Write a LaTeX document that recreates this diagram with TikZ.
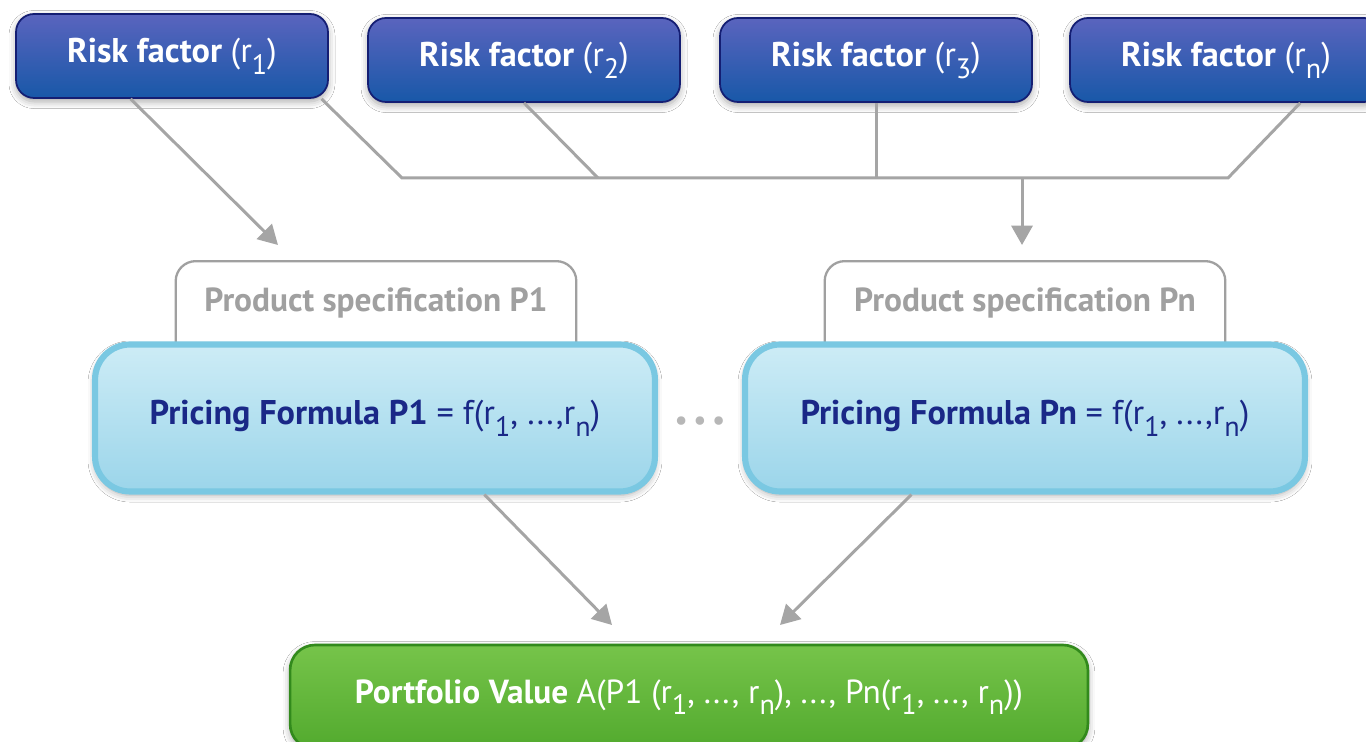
\documentclass[tikz,border=0pt]{standalone}
\usepackage{fontspec}
\setmainfont{PT Sans}
\usetikzlibrary{arrows.meta,shadows.blur}

\definecolor{riskTop}{RGB}{90,100,190}
\definecolor{riskMid}{RGB}{25,36,138}
\definecolor{riskBot}{RGB}{24,88,168}
\definecolor{riskEdge}{RGB}{20,30,115}
\definecolor{priceTop}{RGB}{205,236,246}
\definecolor{priceBot}{RGB}{155,213,234}
\definecolor{priceEdge}{RGB}{122,200,226}
\definecolor{navyText}{RGB}{26,40,135}
\definecolor{valueTop}{RGB}{118,196,74}
\definecolor{valueMid}{RGB}{58,155,34}
\definecolor{valueBot}{RGB}{82,170,46}
\definecolor{valueEdge}{RGB}{50,138,28}
\definecolor{linkGray}{RGB}{165,165,165}
\definecolor{specGray}{RGB}{160,160,160}

\newcommand{\lsub}[1]{\raisebox{-0.7ex}{\fontsize{16}{16}\selectfont #1}}

\begin{document}
\begin{tikzpicture}[x=0.02cm, y=-0.02cm,
    soft/.style={blur shadow={shadow xshift=0pt, shadow yshift=-2pt,
        shadow blur radius=4pt, shadow opacity=35}},
    riskbox/.style={soft, rounded corners=0.36cm, minimum width=6.24cm,
        minimum height=1.68cm, draw=riskEdge, line width=1pt,
        top color=riskTop, middle color=riskMid, bottom color=riskBot,
        text=white, font=\fontsize{19.5}{22}\selectfont},
    spectext/.style={minimum width=8cm, minimum height=1.66cm,
        text=specGray, font=\fontsize{19}{22}\selectfont\bfseries},
    specline/.style={draw=specGray, line width=1.3pt, rounded corners=0.4cm},
    pricebox/.style={soft, rounded corners=0.7cm, minimum width=11.2cm,
        minimum height=2.94cm, draw=priceEdge, line width=3.5pt,
        top color=priceTop, bottom color=priceBot,
        text=navyText, font=\fontsize{19.5}{22}\selectfont},
    valuebox/.style={soft, rounded corners=0.5cm, minimum width=15.96cm,
        minimum height=2.08cm, draw=valueEdge, line width=1.5pt,
        top color=valueTop, middle color=valueMid, bottom color=valueBot,
        text=white, font=\fontsize{19}{22}\selectfont},
    link/.style={draw=linkGray, line width=1.7pt},
    arrowlink/.style={link, -{Triangle[width=12pt,length=11pt]}, color=linkGray}]

\useasboundingbox (0,0) rectangle (1366,742);
\clip (0,0) rectangle (1366,742);
\fill[white] (0,0) rectangle (1366,742);

\node[riskbox] (r1) at (172,56) {\bfseries Risk factor \mdseries(r\lsub{1})};
\node[riskbox] (r2) at (524,60) {\bfseries Risk factor \mdseries(r\lsub{2})};
\node[riskbox] (r3) at (876,60) {\bfseries Risk factor \mdseries(r\lsub{3})};
\node[riskbox] (rn) at (1226,60) {\bfseries Risk factor \mdseries(r\lsub{n})};

\coordinate (busL) at (402,178);
\coordinate (busR) at (1228,178);
\coordinate (j2) at (598,178);
\coordinate (tip1) at (278,245);
\coordinate (tipn) at (1022,245);

\draw[link] (r1.-16) -- (busL) -- (busR) -- (rn.-30);
\draw[link] (r2.south) -- (j2);
\draw[link] (r3.south) -- (r3.south |- busL);
\draw[arrowlink] (r1.-134) -- (tip1);
\draw[arrowlink] (tipn |- busL) -- (tipn);

\node[spectext] (spec1) at (376,303) {Product specification P1};
\node[spectext] (specn) at (1025,303) {Product specification Pn};
\draw[specline] (spec1.south west) -- (spec1.north west) -- (spec1.north east) -- (spec1.south east);
\draw[specline] (specn.south west) -- (specn.north west) -- (specn.north east) -- (specn.south east);

\node[pricebox] (price1) at (375,418) {\bfseries Pricing Formula P1 \mdseries= f(r\lsub{1}, ...,r\lsub{n})};
\node[pricebox] (pricen) at (1025,418) {\bfseries Pricing Formula Pn \mdseries= f(r\lsub{1}, ...,r\lsub{n})};
\node[text=linkGray!80, font=\LARGE] (dots) at (700,424) {\textbullet\,\textbullet\,\textbullet};

\coordinate (tipa) at (612,625);
\coordinate (tipb) at (780,625);
\draw[arrowlink] (price1.-35) -- (tipa);
\draw[arrowlink] (pricen.-146) -- (tipb);

\node[valuebox] (value) at (689,697) {\bfseries Portfolio Value \mdseries A(P1 (r\lsub{1}, ..., r\lsub{n}), ..., Pn(r\lsub{1}, ..., r\lsub{n}))};
\end{tikzpicture}
\end{document}
